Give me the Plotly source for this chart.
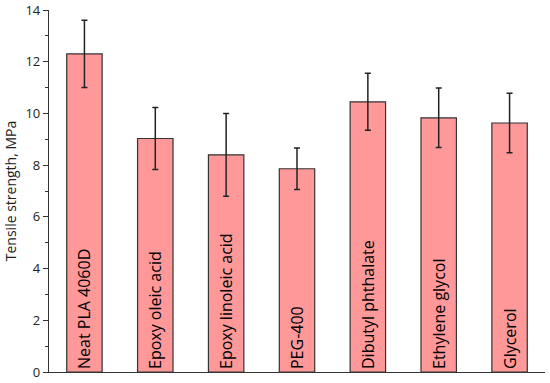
import plotly.graph_objects as go

categories = ["Neat PLA 4060D", "Epoxy oleic acid", "Epoxy linoleic acid", "PEG-400",
              "Dibutyl phthalate", "Ethylene glycol", "Glycerol"]
values = [12.3, 9.03, 8.4, 7.86, 10.45, 9.83, 9.63]
errors = [1.3, 1.2, 1.6, 0.8, 1.1, 1.15, 1.15]
y_ticks = [0, 2, 4, 6, 8, 10, 12, 14]

fig = go.Figure(go.Bar(
    x=categories, y=values,
    marker=dict(color="#FF9999", line=dict(color="#333333", width=1.2)),
    width=0.5,
    error_y=dict(type="data", array=errors, visible=True, color="#222222", thickness=1.5, width=3),
    text=categories, textposition="inside", insidetextanchor="start", textangle=-90,
    insidetextfont=dict(family="Open Sans", size=16, color="#000000"),
    constraintext="none", cliponaxis=False,
))

fig.update_layout(
    width=550, height=383,
    margin=dict(l=49, r=5, t=10, b=11),
    plot_bgcolor="white", paper_bgcolor="white",
    showlegend=False,
    font=dict(family="Open Sans", size=13, color="#222222"),
)
fig.update_xaxes(
    range=[-0.5, 6.5], showticklabels=False, showline=True, linecolor="#333333", linewidth=1.2,
    ticks="", showgrid=False, zeroline=False, automargin=False,
)
fig.update_yaxes(
    range=[0, 14], tickvals=y_ticks, showline=True, linecolor="#333333", linewidth=1.2,
    ticks="outside", ticklen=5, tickcolor="#333333", tickwidth=1.2,
    minor=dict(dtick=1, ticks="outside", ticklen=3, tickcolor="#333333", tickwidth=1.2),
    showgrid=False, zeroline=False, automargin=False,
    tickfont=dict(family="Open Sans", size=13, color="#222222"),
    title=dict(text="Tensile strength, MPa", font=dict(family="Open Sans", size=14, color="#222222"), standoff=5),
)

fig.write_html("out.html", config={"displayModeBar": False},
               post_script="document.body.style.margin='0px';")
